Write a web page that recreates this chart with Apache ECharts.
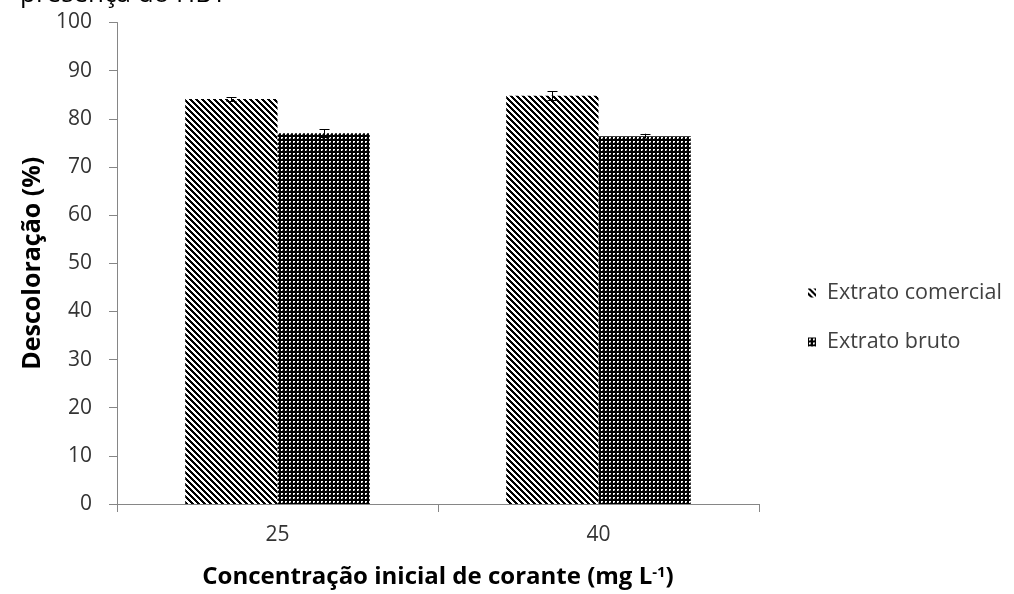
<!DOCTYPE html>
<html>
<head>
<meta charset="utf-8">
<script src="https://cdn.jsdelivr.net/npm/echarts@6/dist/echarts.min.js"></script>
<style>
html,body{margin:0;padding:0;background:#fff;}
#chart{width:1014px;height:594px;}
</style>
</head>
<body>
<div id="chart"></div>
<script>
var categories = ['25', '40'];
var seriesNames = ['Extrato comercial', 'Extrato bruto'];
var comercialValues = [84.1, 84.8];
var comercialErrors = [0.4, 0.9];
var brutoValues = [77.0, 76.4];
var brutoErrors = [0.8, 0.5];
var yTicks = [0, 10, 20, 30, 40, 50, 60, 70, 80, 90, 100];

function makePattern(kind) {
  var n = kind === 'diag' ? 6 : 4;
  var c = document.createElement('canvas');
  c.width = n; c.height = n;
  var ctx = c.getContext('2d');
  var img = ctx.createImageData(n, n);
  for (var y = 0; y < n; y++) {
    for (var x = 0; x < n; x++) {
      var v;
      if (kind === 'diag') {
        var m = ((x - y) % n + n) % n;
        v = (m <= 2) ? 0 : 255;
      } else {
        var inDot = (x === 1 || x === 2) && (y === 1 || y === 2);
        v = inDot ? ((x === 2 && y === 2) ? 120 : 255) : 0;
      }
      var i = (y * n + x) * 4;
      img.data[i] = v; img.data[i + 1] = v; img.data[i + 2] = v; img.data[i + 3] = 255;
    }
  }
  ctx.putImageData(img, 0, 0);
  return { image: c, repeat: 'repeat' };
}

var patDiag = makePattern('diag');
var patDots = makePattern('dots');
var CAT_GAP = 0.425;

function errorRender(seriesIdx, values, errors) {
  return function (params, api) {
    var i = params.dataIndex;
    var band = api.size([1, 0])[0];
    var bw = band * (1 - CAT_GAP) / 2;
    var off = seriesIdx === 0 ? -bw / 2 : bw / 2;
    var base = api.coord([i, values[i]]);
    var hi = api.coord([i, values[i] + errors[i]]);
    var lo = api.coord([i, values[i] - errors[i]]);
    var x = Math.round(base[0] + off) + 0.5;
    var cap = 5;
    var st = { stroke: '#000', lineWidth: 1 };
    return {
      type: 'group',
      children: [
        { type: 'line', shape: { x1: x, y1: lo[1], x2: x, y2: hi[1] }, style: st },
        { type: 'line', shape: { x1: x - cap, y1: Math.round(hi[1]) + 0.5, x2: x + cap, y2: Math.round(hi[1]) + 0.5 }, style: st },
        { type: 'line', shape: { x1: x - cap, y1: Math.round(lo[1]) + 0.5, x2: x + cap, y2: Math.round(lo[1]) + 0.5 }, style: st }
      ]
    };
  };
}

var chart = echarts.init(document.getElementById('chart'), null, { renderer: 'canvas' });
var FONT = '"Open Sans", "DejaVu Sans", sans-serif';
chart.setOption({
  animation: false,
  backgroundColor: '#fff',
  textStyle: { fontFamily: FONT },
  graphic: [{
    type: 'text', left: 20, top: -18,
    style: { text: 'presença do HBT', font: '26px ' + FONT, fill: '#000' }
  }],
  grid: { left: 117, right: 255, top: 22.5, bottom: 90, containLabel: false },
  legend: {
    orient: 'vertical', left: 803, top: 277,
    itemWidth: 8, itemHeight: 9, itemGap: 27,
    icon: 'rect',
    data: seriesNames,
    textStyle: { fontSize: 21.5, color: '#404040', lineHeight: 21, padding: [0, 0, 0, 6], fontFamily: FONT }
  },
  xAxis: {
    type: 'category', data: categories,
    axisLine: { lineStyle: { color: '#868686', width: 1 } },
    axisTick: { show: true, alignWithLabel: false, length: 8, lineStyle: { color: '#868686' } },
    axisLabel: { fontSize: 21, color: '#333', margin: 21, fontFamily: FONT },
    name: 'Concentração inicial de corante (mg L{sup|-1})',
    nameLocation: 'middle', nameGap: 61,
    nameTextStyle: {
      fontSize: 24, fontWeight: 'bold', color: '#000', fontFamily: FONT,
      rich: { sup: { fontSize: 15, fontWeight: 'bold', color: '#000', verticalAlign: 'top', padding: [0, 0, 9, 0], fontFamily: FONT } }
    }
  },
  yAxis: {
    type: 'value', min: 0, max: 100, interval: 10,
    axisLine: { show: true, lineStyle: { color: '#868686', width: 1 } },
    axisTick: { show: true, length: 8, lineStyle: { color: '#868686' } },
    splitLine: { show: false },
    axisLabel: { fontSize: 21, color: '#333', margin: 25, fontFamily: FONT,
      formatter: function (v) { return yTicks.indexOf(v) >= 0 ? String(v) : ''; } },
    name: 'Descoloração (%)', nameLocation: 'middle', nameGap: 72, nameRotate: 90,
    nameTextStyle: { fontSize: 25, fontWeight: 'bold', color: '#000', fontFamily: FONT }
  },
  series: [
    { name: seriesNames[0], type: 'bar', data: comercialValues, barGap: '0%', barCategoryGap: (CAT_GAP * 100) + '%',
      itemStyle: { color: patDiag }, z: 2 },
    { name: seriesNames[1], type: 'bar', data: brutoValues, barGap: '0%', barCategoryGap: (CAT_GAP * 100) + '%',
      itemStyle: { color: patDots }, z: 2 },
    { type: 'custom', data: comercialValues.map(function (v, i) { return [i, v]; }),
      renderItem: errorRender(0, comercialValues, comercialErrors), z: 5, silent: true },
    { type: 'custom', data: brutoValues.map(function (v, i) { return [i, v]; }),
      renderItem: errorRender(1, brutoValues, brutoErrors), z: 5, silent: true }
  ]
});
</script>
</body>
</html>
